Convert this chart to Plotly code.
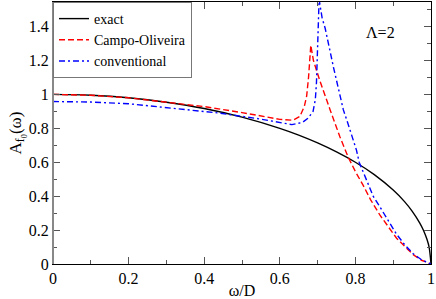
import plotly.graph_objects as go

# exact
w_exact = [0.0, 0.1, 0.2, 0.3, 0.4, 0.5, 0.6, 0.65, 0.7, 0.75, 0.8, 0.85, 0.9, 0.93, 0.95, 0.97, 0.98, 0.99, 0.995, 1.0]
a_exact = [1.0, 0.995, 0.98, 0.954, 0.917, 0.866, 0.8, 0.76, 0.714, 0.661, 0.6, 0.527, 0.436, 0.368, 0.312, 0.243, 0.199, 0.141, 0.1, 0.0]

# Campo-Oliveira
w_campo = [0.0, 0.1, 0.2, 0.3, 0.4, 0.5, 0.548, 0.574, 0.6, 0.635, 0.653, 0.665, 0.671, 0.676, 0.68, 0.682,
           0.689, 0.706, 0.733, 0.759, 0.781, 0.8, 0.821, 0.84, 0.865, 0.89, 0.909, 0.93, 0.953, 0.975, 1.0]
a_campo = [1.0, 0.995, 0.98, 0.956, 0.928, 0.893, 0.875, 0.862, 0.853, 0.848, 0.87, 0.93, 0.99, 1.1, 1.2, 1.29,
           1.2, 1.08, 0.91, 0.75, 0.63, 0.545, 0.462, 0.38, 0.288, 0.21, 0.152, 0.105, 0.055, 0.022, 0.0]

# conventional
w_conv = [0.0, 0.1, 0.2, 0.344, 0.44, 0.548, 0.574, 0.632, 0.66, 0.675, 0.688, 0.694, 0.697, 0.7, 0.702, 0.704,
          0.712, 0.72, 0.742, 0.768, 0.78, 0.803, 0.81, 0.83, 0.847, 0.865, 0.89, 0.909, 0.93, 0.953, 0.975, 1.0]
a_conv = [0.958, 0.955, 0.945, 0.914, 0.89, 0.855, 0.845, 0.822, 0.835, 0.86, 0.9, 0.97, 1.07, 1.25, 1.36, 1.56,
          1.45, 1.39, 1.16, 0.91, 0.83, 0.67, 0.6, 0.49, 0.4, 0.336, 0.24, 0.175, 0.115, 0.06, 0.025, 0.0]

series_names = ["exact", "Campo-Oliveira", "conventional"]
x_ticks = [0, 0.2, 0.4, 0.6, 0.8, 1]
y_ticks = [0, 0.2, 0.4, 0.6, 0.8, 1, 1.2, 1.4]

FONT = "Times New Roman, Liberation Serif, DejaVu Serif, serif"

fig = go.Figure()
fig.add_trace(go.Scatter(x=w_exact, y=a_exact, mode="lines", name=series_names[0],
                         line=dict(color="black", width=1.4), line_shape="spline"))
fig.add_trace(go.Scatter(x=w_campo, y=a_campo, mode="lines", name=series_names[1],
                         line=dict(color="#ff0000", width=1.4, dash="6px,3px")))
fig.add_trace(go.Scatter(x=w_conv, y=a_conv, mode="lines", name=series_names[2],
                         line=dict(color="#0000ff", width=1.4, dash="6px,3px,2px,3px")))

axis_common = dict(
    showgrid=False, zeroline=False, ticks="inside", ticklen=7, tickwidth=1, tickcolor="#555",
    showline=True, linecolor="black", linewidth=1, mirror="ticks",
    tickfont=dict(family=FONT, size=16, color="black"),
    minor=dict(ticks="inside", ticklen=4, tickcolor="#555", tickwidth=1),
)

fig.update_xaxes(range=[0, 1], tickvals=x_ticks, minor_dtick=0.1, ticklabelstandoff=0,
                 title=dict(text="ω/D", font=dict(family=FONT, size=16, color="black"), standoff=0),
                 **axis_common)
fig.update_yaxes(range=[0, 1.545], tickvals=y_ticks, minor_dtick=0.1, ticklabelstandoff=0,
                 title=dict(text="A<sub>f<sub>0</sub></sub>(ω)", font=dict(family=FONT, size=17, color="black"), standoff=0),
                 **axis_common)

fig.add_shape(type="line", xref="paper", yref="paper", x0=0, x1=0, y0=0, y1=1,
              line=dict(color="#888", width=2))

fig.add_annotation(text="Λ=2", xref="paper", yref="paper", x=0.91, y=0.925, showarrow=False,
                   font=dict(family=FONT, size=16, color="black"))

fig.update_layout(
    width=436, height=299,
    margin=dict(l=53, r=5, t=1, b=33),
    font=dict(family=FONT, size=16, color="black"),
    plot_bgcolor="white", paper_bgcolor="white",
    showlegend=True,
    legend=dict(x=0, y=1, xanchor="left", yanchor="top", bgcolor="white",
                bordercolor="#777", borderwidth=1,
                font=dict(family=FONT, size=14, color="black"),
                tracegroupgap=0, itemwidth=30),
)

fig.write_html("out.html", config={"displayModeBar": False},
               post_script="document.body.style.margin='0';document.body.style.overflow='hidden';")
